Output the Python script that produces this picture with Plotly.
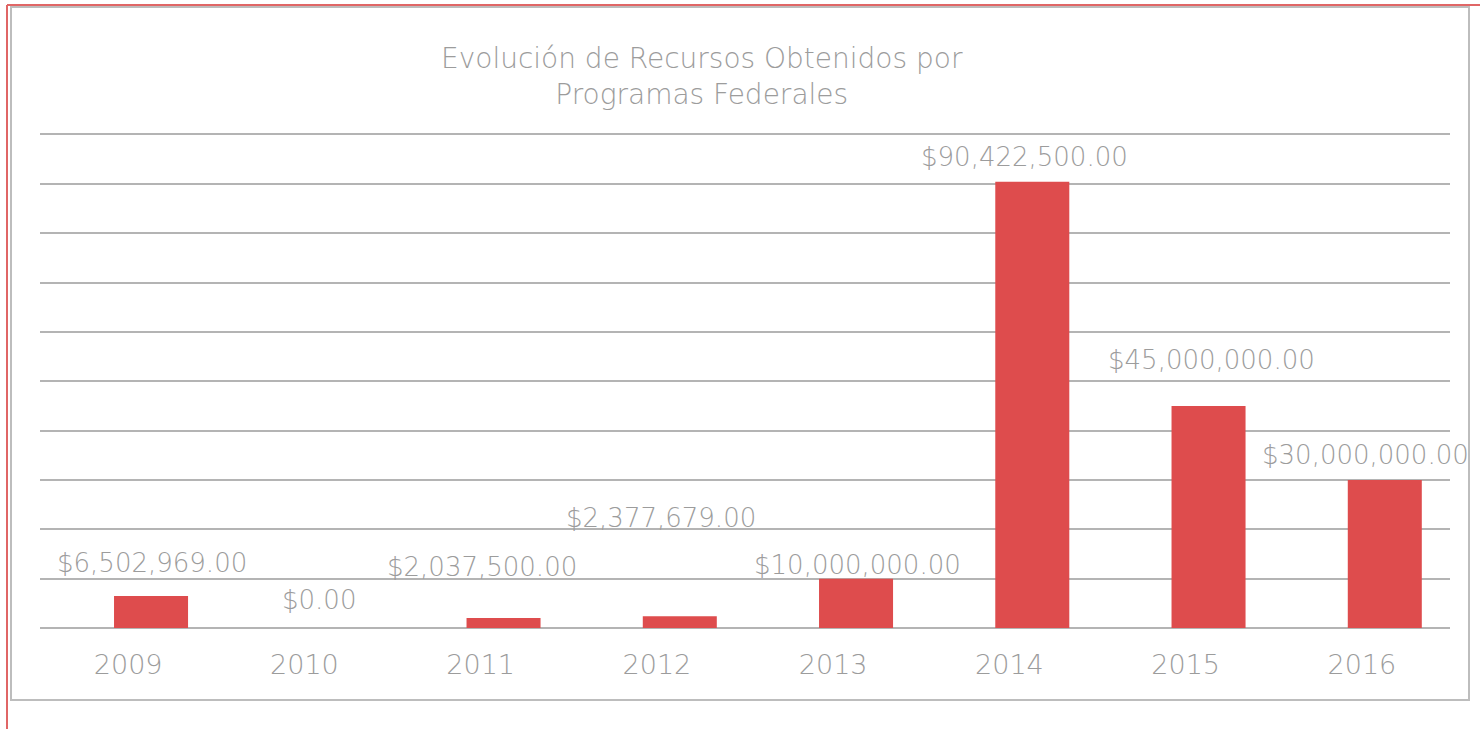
import plotly.graph_objects as go

# Datos: recursos obtenidos por programas federales (pesos)
years = ["2009", "2010", "2011", "2012", "2013", "2014", "2015", "2016"]
amounts = [6502969.00, 0.00, 2037500.00, 2377679.00, 10000000.00, 90422500.00, 45000000.00, 30000000.00]

# Desplazamiento de cada etiqueta respecto al extremo de su barra (px)
label_dx = [24, 15, 1, 4, 24, 15, 26, 4]
label_dy = [33, 28, 51, 98, 14, 25, 46, 25]

W, H = 1480, 729
L, R, T, B = 40, 30, 132, 101
PW, PH = W - L - R, H - T - B

FONT = "DejaVu Sans"
RED = "#DE4C4D"
GRID = "#B4B4B4"
TEXT = "#9C9C9C"


def px_x(p):
    return (p - L) / PW


def px_y(p):
    return (H - B - p) / PH


fig = go.Figure()
fig.add_trace(go.Bar(
    x=years, y=amounts,
    marker=dict(color=RED, line=dict(width=0)),
    width=0.42, offset=-0.08,
    hoverinfo="x+y",
))

annotations = []
for i, (v, dx, dy) in enumerate(zip(amounts, label_dx, label_dy)):
    annotations.append(dict(
        x=i, y=v, xref="x", yref="y",
        text=f"${v:,.2f}", showarrow=False,
        xanchor="center", yanchor="middle",
        xshift=dx, yshift=dy,
        font=dict(family=FONT, size=26, color=TEXT, weight=200),
    ))

annotations.append(dict(
    x=px_x(702), y=px_y(76), xref="paper", yref="paper",
    text="Evolución de Recursos Obtenidos por<br>Programas Federales",
    showarrow=False, xanchor="center", yanchor="middle",
    font=dict(family=FONT, size=28, color=TEXT, weight=200),
))

shapes = [
    # marco gris interior
    dict(type="rect", xref="paper", yref="paper",
         x0=px_x(11), x1=px_x(1469), y0=px_y(700), y1=px_y(7),
         line=dict(color="#BDBDBD", width=2), layer="below"),
    # borde rojo superior e izquierdo
    dict(type="line", xref="paper", yref="paper",
         x0=px_x(7), x1=px_x(1480), y0=px_y(5), y1=px_y(5),
         line=dict(color="#E06666", width=2)),
    dict(type="line", xref="paper", yref="paper",
         x0=px_x(7), x1=px_x(7), y0=px_y(5), y1=px_y(729),
         line=dict(color="#E06666", width=2)),
]

fig.update_layout(
    width=W, height=H,
    margin=dict(l=L, r=R, t=T, b=B),
    paper_bgcolor="white", plot_bgcolor="white",
    showlegend=False,
    annotations=annotations,
    shapes=shapes,
    xaxis=dict(
        type="category", range=[-0.5, 7.5],
        showgrid=False, zeroline=False, showline=False,
        ticks="", tickfont=dict(family=FONT, size=27, color=TEXT, weight=200),
        ticklabelstandoff=18,
    ),
    yaxis=dict(
        range=[0, 100500000], dtick=10000000, showticklabels=False,
        showgrid=True, gridcolor=GRID, gridwidth=1.5,
        zeroline=True, zerolinecolor=GRID, zerolinewidth=1.5,
        showline=False, ticks="",
    ),
)

fig.write_html("out.html")
